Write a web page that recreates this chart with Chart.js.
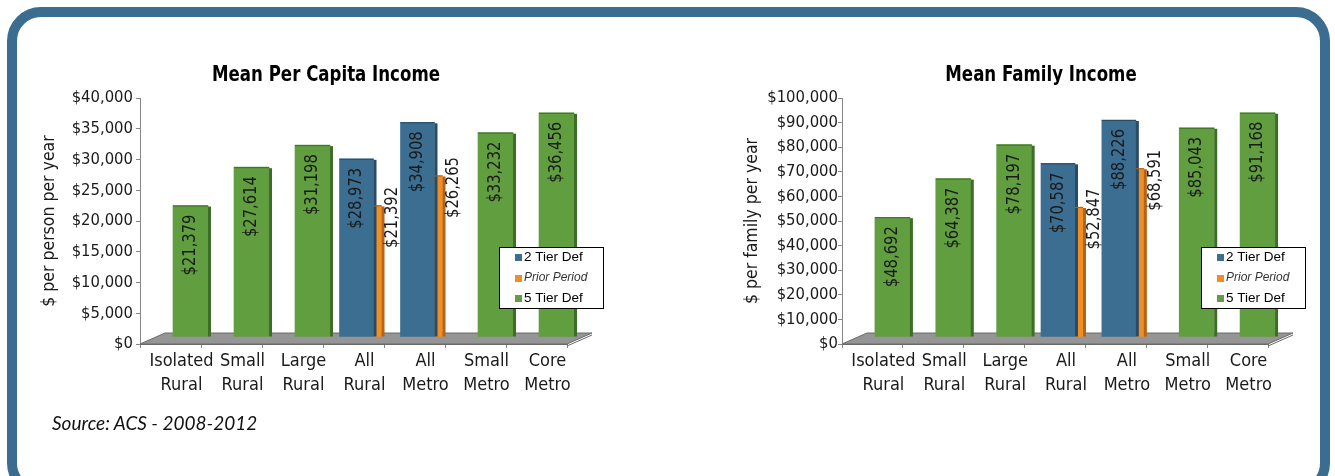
<!DOCTYPE html>
<html>
<head>
<meta charset="utf-8">
<title>Mean Income</title>
<script src="https://cdn.jsdelivr.net/npm/chart.js@4.4.0/dist/chart.umd.min.js"></script>
<style>
    html, body { margin: 0; padding: 0; background: #fff; }
    body { width: 1335px; height: 476px; overflow: hidden; position: relative; }
    .frame {
        position: absolute; left: 7px; top: 7px; width: 1323px; height: 490px;
        border: 10px solid #3b6d90; border-radius: 34px; box-sizing: border-box;
    }
    .box { position: absolute; top: 0; width: 665px; height: 420px; }
    #source {
        position: absolute; left: 52px; top: 411px;
        font: italic 19px Lato, 'Open Sans', sans-serif; color: #111;
    }
</style>
</head>
<body>
<div class="frame"></div>
<div class="box" style="left:0"><canvas id="capitaChart"></canvas></div>
<div class="box" style="left:670px"><canvas id="familyChart"></canvas></div>
<div id="source">Source: ACS - 2008-2012</div>
<script>
const categories = [['Isolated', 'Rural'], ['Small', 'Rural'], ['Large', 'Rural'], ['All', 'Rural'],
                    ['All', 'Metro'], ['Small', 'Metro'], ['Core', 'Metro']];
const seriesNames = ['2 Tier Def', 'Prior Period', '5 Tier Def'];

const capitaTwoTier = [null, null, null, 28973, 34908, null, null];
const capitaPrior = [null, null, null, 21392, 26265, null, null];
const capitaFiveTier = [21379, 27614, 31198, null, null, 33232, 36456];

const familyTwoTier = [null, null, null, 70587, 88226, null, null];
const familyPrior = [null, null, null, 52847, 68591, null, null];
const familyFiveTier = [48692, 64387, 78197, null, null, 85043, 91168];

const NARROW = "'Liberation Sans Narrow', 'Arial Narrow', 'DejaVu Sans Condensed', sans-serif";
const TEXT = '#1a1a1a';
const AXIS = '#868686';

// fake 3D: bars sit back on the floor
const DEPTH_X = 20, DEPTH_Y = -7;
const FLOOR_X = 25, FLOOR_Y = -11;
const SIDE = 3;

const money = v => '$' + Number(v).toLocaleString('en-US');

const depthPlugin = {
    id: 'depth',
    beforeDatasetsDraw(chart) {
        const { ctx, chartArea: a } = chart;
        ctx.save();
        ctx.fillStyle = '#959595';
        ctx.beginPath();
        ctx.moveTo(a.left, a.bottom);
        ctx.lineTo(a.right, a.bottom);
        ctx.lineTo(a.right + FLOOR_X, a.bottom + FLOOR_Y);
        ctx.lineTo(a.left + FLOOR_X, a.bottom + FLOOR_Y);
        ctx.closePath();
        ctx.fill();
        ctx.strokeStyle = '#6a6a6a';
        ctx.lineWidth = 1;
        ctx.stroke();
        ctx.beginPath();
        ctx.moveTo(a.right, a.bottom + 2);
        ctx.lineTo(a.right + FLOOR_X, a.bottom + FLOOR_Y + 2);
        ctx.stroke();
        ctx.restore();
        ctx.save();
        ctx.translate(DEPTH_X, DEPTH_Y);
    },
    afterDatasetsDraw(chart) {
        const ctx = chart.ctx;
        const metas = chart.getSortedVisibleDatasetMetas();
        metas.forEach(meta => {
            const ds = chart.data.datasets[meta.index];
            meta.data.forEach((bar, i) => {
                if (ds.data[i] == null) return;
                const p = bar.getProps(['x', 'y', 'base', 'width'], true);
                const left = p.x - p.width / 2, right = p.x + p.width / 2;
                ctx.fillStyle = ds.sideColor;
                ctx.fillRect(right, p.y + 1, SIDE, p.base - p.y - 1);
                ctx.fillRect(left, p.y, p.width, 1);
            });
        });
        metas.forEach(meta => {
            const ds = chart.data.datasets[meta.index];
            meta.data.forEach((bar, i) => {
                if (ds.data[i] == null) return;
                const p = bar.getProps(['x', 'y', 'width'], true);
                ctx.save();
                if (ds.labelOutside) {
                    ctx.translate(p.x + p.width / 2 + SIDE + 8, p.y + 12);
                    ctx.textAlign = 'center';
                } else {
                    ctx.translate(p.x, p.y + 9);
                    ctx.textAlign = 'right';
                }
                ctx.rotate(-Math.PI / 2);
                ctx.scale(0.91, 1); // squeeze to a narrow face
                ctx.textBaseline = 'middle';
                ctx.font = '18px ' + NARROW;
                ctx.fillStyle = TEXT;
                ctx.fillText(money(ds.data[i]), 0, 0);
                ctx.restore();
            });
        });
        ctx.restore();
    }
};

const titlePlugin = {
    id: 'chartTitle',
    afterDraw(chart, args, o) {
        const ctx = chart.ctx;
        ctx.save();
        ctx.translate(o.x, o.y);
        ctx.scale(0.84, 1);
        ctx.font = 'bold 22px ' + NARROW;
        ctx.fillStyle = '#000';
        ctx.textAlign = 'center';
        ctx.textBaseline = 'middle';
        ctx.fillText(o.text, 0, 0);
        ctx.restore();
    }
};

const boxLegend = {
    id: 'boxLegend',
    afterDraw(chart, args, o) {
        const { ctx, chartArea: a } = chart;
        const x = Math.round(a.left + o.dx), y = Math.round(a.top + o.dy);
        ctx.save();
        ctx.fillStyle = '#fff';
        ctx.fillRect(x, y, o.width, o.height);
        ctx.strokeStyle = '#000';
        ctx.lineWidth = 1;
        ctx.strokeRect(x + 0.5, y + 0.5, o.width, o.height);
        ctx.textBaseline = 'middle';
        chart.data.datasets.forEach((ds, i) => {
            const cy = y + 10.5 + i * 20.5;
            ctx.fillStyle = ds.backgroundColor;
            ctx.fillRect(x + 16, Math.round(cy - 3.5), 7, 7);
            ctx.fillStyle = ds.italic ? '#333' : '#000';
            ctx.font = ds.italic ? 'italic 12px "Liberation Sans", Arial, sans-serif'
                                 : '13.5px "Liberation Sans", Arial, sans-serif';
            ctx.fillText(ds.label, x + 25, cy);
        });
        ctx.restore();
    }
};

function buildChart(id, cfg) {
    const ctx = document.getElementById(id).getContext('2d');
    return new Chart(ctx, {
        type: 'bar',
        data: {
            labels: categories,
            datasets: [
                { label: seriesNames[0], data: cfg.twoTier, backgroundColor: '#3c6e92',
                  sideColor: '#284c67', barThickness: 34 },
                { label: seriesNames[1], data: cfg.prior, backgroundColor: '#f08d23',
                  sideColor: '#b4631b', barThickness: 8, labelOutside: true, italic: true },
                { label: seriesNames[2], data: cfg.fiveTier, backgroundColor: '#609e40',
                  sideColor: '#3e6c29', barThickness: 35 }
            ]
        },
        options: {
            responsive: true,
            maintainAspectRatio: false,
            animation: false,
            layout: { padding: { left: cfg.padLeft, top: 98, right: cfg.padRight, bottom: 16 } },
            datasets: { bar: { skipNull: true, clip: false } },
            plugins: {
                legend: { display: false },
                tooltip: { enabled: false },
                chartTitle: { text: cfg.title, x: cfg.titleX, y: 75 },
                boxLegend: { dx: 359, dy: 149, width: 104, height: 61 }
            },
            scales: {
                x: {
                    grid: { drawOnChartArea: false, tickLength: 4, color: AXIS, offset: true },
                    border: { color: '#6a6a6a' },
                    ticks: {
                        color: TEXT, padding: 1, labelOffset: 11,
                        maxRotation: 0, minRotation: 0, autoSkip: false,
                        font: { family: NARROW, size: 18, lineHeight: 1.35 }
                    },
                    afterFit: s => { s.height = 60; }
                },
                y: {
                    min: 0,
                    max: cfg.max,
                    grid: { drawOnChartArea: false, tickLength: 4, color: AXIS },
                    border: { color: AXIS },
                    ticks: {
                        stepSize: cfg.step, color: TEXT, padding: cfg.tickPad,
                        font: { family: NARROW, size: 16.5 },
                        callback: v => money(v)
                    },
                    title: {
                        display: true, text: cfg.yTitle, color: TEXT,
                        padding: { top: 4, bottom: 4 },
                        font: { family: NARROW, size: 17.5 }
                    },
                    afterFit: s => { s.width = cfg.yWidth; }
                }
            }
        },
        plugins: [depthPlugin, titlePlugin, boxLegend]
    });
}

document.addEventListener('DOMContentLoaded', () => {
    buildChart('capitaChart', {
        title: 'Mean Per Capita Income', titleX: 326,
        yTitle: '$ per person per year',
        twoTier: capitaTwoTier, prior: capitaPrior, fiveTier: capitaFiveTier,
        max: 40000, step: 5000, tickPad: 3,
        padLeft: 34.5, yWidth: 105.5, padRight: 98
    });
    buildChart('familyChart', {
        title: 'Mean Family Income', titleX: 371,
        yTitle: '$ per family per year',
        twoTier: familyTwoTier, prior: familyPrior, fiveTier: familyFiveTier,
        max: 100000, step: 10000, tickPad: 0,
        padLeft: 67.5, yWidth: 104.5, padRight: 67
    });
});
</script>
</body>
</html>
